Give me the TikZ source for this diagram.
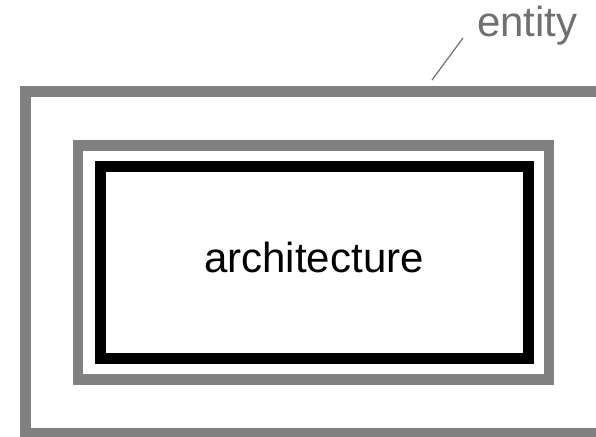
\documentclass[tikz,border=0pt]{standalone}
\usepackage{fontspec}
\setmainfont{Liberation Sans}
\definecolor{boxgray}{HTML}{808080}
\definecolor{textgray}{HTML}{707070}
\begin{document}
\begin{tikzpicture}[x=1pt,y=-1pt,
  graybox/.style={draw=boxgray,line width=10.5pt,inner sep=0pt,outer sep=0pt},
  blackbox/.style={draw=black,line width=11pt,inner sep=0pt,outer sep=0pt},
  lbl/.style={inner sep=0pt,font=\fontsize{42}{50}\selectfont}]
\useasboundingbox (0,0) rectangle (596,436);
\clip (0,0) rectangle (596,436);
\fill[white] (0,0) rectangle (596,436);
% outer entity rectangle (runs off the right and bottom edges)
\node[graybox,minimum width=580pt,minimum height=342pt] (entity) at (315.5,262.5) {};
% middle gray rectangle
\node[graybox,minimum width=471pt,minimum height=234pt] (mid) at (313.5,262.5) {};
% black architecture rectangle
\node[blackbox,minimum width=427.5pt,minimum height=192pt] (arch) at (314.25,262.5) {};
\node[lbl,anchor=base] (archtext) at (314,272) {architecture};
% entity label with leader
\node[lbl,anchor=base west,text=textgray] (enttext) at (477,37) {entity};
\coordinate (lead1) at (432,80);
\coordinate (lead2) at (463,38);
\draw[textgray,line width=1.2pt] (lead1) -- (lead2);
\end{tikzpicture}
\end{document}
